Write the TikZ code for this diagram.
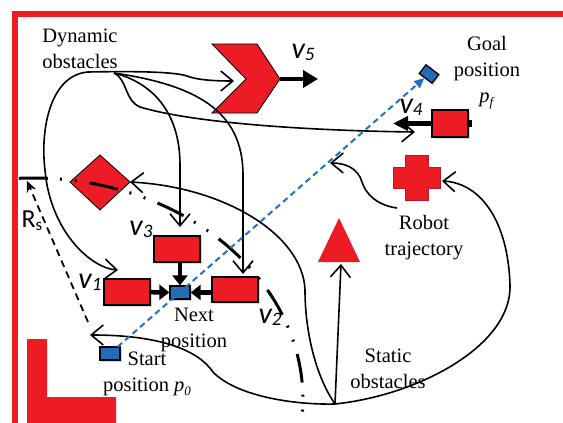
\documentclass[tikz,border=0pt]{standalone}
\usepackage{fontspec}
\setmainfont{Liberation Serif}
\newfontfamily\calfont{Carlito}
\usetikzlibrary{arrows.meta,shadows}
\definecolor{obsred}{RGB}{237,28,36}
\definecolor{posblue}{RGB}{35,108,186}
\definecolor{pathblue}{RGB}{33,113,192}
\newcommand{\vlabel}[1]{{\calfont\fontsize{30}{30}\selectfont\itshape v\raisebox{-2pt}{\fontsize{19}{19}\selectfont #1}}}
\newcommand{\psub}[1]{\textit{p}\raisebox{-4pt}{\fontsize{13}{13}\selectfont\textit{#1}}}

\begin{document}
\begin{tikzpicture}[x=1pt,y=-1pt,
  lbl/.style={font=\fontsize{20.5}{26}\selectfont, align=center, inner sep=0pt},
  carbox/.style={draw=black, line width=1.3pt, fill=obsred, inner sep=0pt,
    drop shadow={shadow xshift=1.5pt, shadow yshift=-1.5pt, opacity=0.3}},
  posbox/.style={draw=black, line width=1.3pt, fill=posblue, inner sep=0pt,
    minimum width=20pt, minimum height=13pt,
    drop shadow={shadow xshift=1.5pt, shadow yshift=-1.5pt, opacity=0.3}},
  trail/.style={line width=1.6pt, -{Straight Barb[length=12pt,width=20pt]}},
  push/.style={line width=4.5pt, -{Triangle[length=10pt,width=15pt]}}
]

\useasboundingbox (0,0) rectangle (563,423);

% Frame
\fill[obsred] (12,11) rectangle (563,17);
\fill[obsred] (12,11) rectangle (18,423);

% Static and dynamic obstacles
\filldraw[fill=obsred, line width=0.8pt] (212,44) -- (257,44) -- (280,79) -- (257,113) -- (212,113) -- (246,79) -- cycle;
\coordinate (chevtip) at (280,79);
\coordinate (chevin) at (234,81);
\coordinate (v5end) at (318,79);
\filldraw[fill=obsred, line width=0.8pt] (100,155) -- (130,182) -- (100,210) -- (70,182) -- cycle;
\coordinate (diaE) at (130,182);
\filldraw[fill=obsred, draw=obsred!80!black, line width=0.4pt] (405,155) -- (428,155) -- (428,167) -- (440,167) -- (440,188)
  -- (428,188) -- (428,200) -- (405,200) -- (405,188) -- (393,188) -- (393,167) -- (405,167) -- cycle;
\coordinate (crossE) at (442,181);
\fill[obsred] (339,218) -- (360,262) -- (318,262) -- cycle;
\coordinate (triB) at (341,264);
\fill[obsred] (27,339) -- (47,339) -- (47,397) -- (116,397) -- (116,423) -- (27,423) -- cycle;

% Vehicles and positions
\node[carbox, minimum width=46pt, minimum height=26pt] (v3) at (177,249) {};
\node[carbox, minimum width=46pt, minimum height=26pt] (v1) at (127,292) {};
\node[carbox, minimum width=46pt, minimum height=25pt] (v2) at (235,289.5) {};
\node[carbox, minimum width=36pt, minimum height=27pt] (v4) at (450,123.5) {};
\node[posbox] (next) at (180,292.5) {};
\node[posbox] (start) at (110,353.5) {};
\node[posbox, minimum width=16pt, minimum height=11pt, rotate=-37] (goal) at (429,74) {};
\fill[black] (v4.east) ++(0,-3.5) rectangle ++(3,7);

% Velocities
\draw[push, -{Triangle[length=15pt,width=17pt]}] (chevtip) -- (v5end);
\coordinate (v4out) at (393,123.5);
\draw[push, -{Triangle[length=15pt,width=14pt]}] (v4.west) -- (v4out);
\draw[push] (v1) -- (next);
\draw[push] (v2.west |- next) -- (next.east);
\draw[push] (next.north |- v3.south) -- (next.north);

% Labels
\node[lbl] (dyntxt) at (80,49) {Dynamic\\obstacles};
\node[lbl] (goaltxt) at (487,73) {Goal\\position\\\psub{f}};
\node[lbl] (robtxt) at (424,238) {Robot\\trajectory};
\node[lbl] (stattxt) at (388,369) {Static\\obstacles};
\node[lbl] (nexttxt) at (194,330) {Next\\position};
\node[lbl] (starttxt) at (147,374) {Start\\position \psub{0}};
\node (v5lbl) at (303,52) {\vlabel{5}};
\node (v4lbl) at (411,107) {\vlabel{4}};
\node (v3lbl) at (141,229) {\vlabel{3}};
\node (v1lbl) at (90,282) {\vlabel{1}};
\node (v2lbl) at (270,317) {\vlabel{2}};
\node (rslbl) at (32,221) {\calfont\fontsize{26}{26}\selectfont R\raisebox{-3pt}{\fontsize{17}{17}\selectfont s}};

% Dynamic obstacle paths
\coordinate (dynL) at (88,72);
\coordinate (dynR) at (114,73);
\coordinate (v4in) at (415,132);
\coordinate (v3in) at (180,227);
\coordinate (v2in) at (243,274);
\coordinate (v1in) at (118,270);
\draw[trail] (dynL) .. controls (140,71) and (175,72) .. (187,76) .. controls (197,80) and (215,81) .. (chevin);
\draw[trail] (dynR) .. controls (128,80) and (124,100) .. (140,107) .. controls (200,125) and (330,131) .. (v4in);
\draw[trail] (dynR) .. controls (150,82) and (180,110) .. (180,165) -- (v3in);
\draw[trail] (dynR) .. controls (195,85) and (243,110) .. (243,175) -- (v2in);
\draw[trail] (dynL) .. controls (50,75) and (40,130) .. (45,170) .. controls (50,230) and (90,268) .. (v1in);

% Robot trajectory
\coordinate (statS) at (335,404);
\coordinate (startin) at (90,335);
\coordinate (robS) at (397,208);
\coordinate (robE) at (330,163);
\draw[trail] (statS) .. controls (315,375) and (305,330) .. (305,290) .. controls (303,235) and (225,187) .. (diaE);
\draw[trail] (statS) .. controls (290,405) and (235,395) .. (213,372) .. controls (198,350) and (160,335) .. (startin);
\draw[trail] (statS) -- (triB);
\draw[trail] (statS) .. controls (420,395) and (512,345) .. (510,285) .. controls (508,220) and (480,183) .. (crossE);
\draw[trail] (robS) .. controls (375,205) and (365,192) .. (362,182) .. controls (358,168) and (345,163) .. (robE);

% Sensing range
\draw[line width=3pt, dash pattern=on 29pt off 12pt on 2pt off 13pt on 2pt off 13pt]
  plot[domain=93:-5.5, samples=120] ({33+270*cos(\x)}, {400-222*sin(\x)});
\coordinate (rsS) at (88,322);
\coordinate (rsE) at (27,181);
\draw[line width=1.8pt, dash pattern=on 7pt off 5pt, -{Stealth[length=11pt,width=10pt]}] (rsS) -- (rsE);

% Straight line to goal
\draw[pathblue, line width=2pt, dash pattern=on 6pt off 4pt, -{Triangle[length=10pt,width=9pt]}] (start.center) -- (goal);

\end{tikzpicture}
\end{document}
